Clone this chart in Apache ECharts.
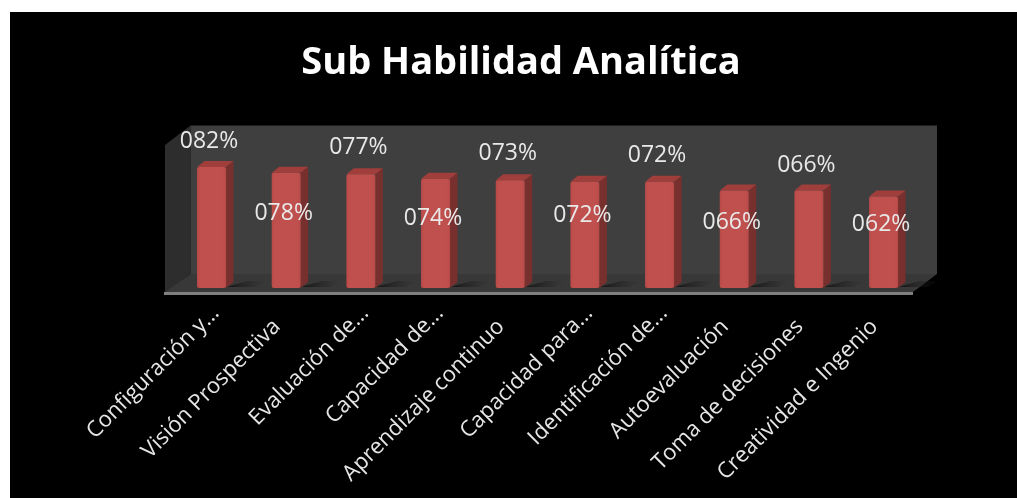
<!DOCTYPE html>
<html>
<head>
<meta charset="utf-8">
<style>
html,body{margin:0;padding:0;background:#fff;overflow:hidden}
#sheet{position:absolute;left:10px;top:12px;right:0;bottom:0;background:#000}
#chart{position:absolute;left:0;top:0;width:1017px;height:498px}
</style>
<script src="https://cdn.jsdelivr.net/npm/echarts@6/dist/echarts.min.js"></script>
</head>
<body>
<div id="sheet"></div>
<div id="chart"></div>
<script>
const categories = ['Configuración y...','Visión Prospectiva','Evaluación de...','Capacidad de...','Aprendizaje continuo','Capacidad para...','Identificación de...','Autoevaluación','Toma de decisiones','Creatividad e Ingenio'];
const values = [82,78,77,74,73,72,72,66,66,62];
const valueLabels = ['082%','078%','077%','074%','073%','072%','072%','066%','066%','062%'];

// layout only: label centre relative to the bar's top front edge
const labelShiftY = [-26,41,-27,40,-27,34,-26,32,-25,28];
const labelShiftX = -2.5;
const DEPTH_X = 7.5, DEPTH_Y = 6, BAR_W = 29, BAR_SHIFT = 0;
const FONT = '"Open Sans", sans-serif';
const catStyle = {color:'#e6e6e6', fontFamily:FONT, fontSize:22};

function poly(points, fill, z) {
  return {type:'polygon', shape:{points}, style:{fill}, z2:z||0, silent:true};
}
function renderBar(params, api) {
  const i = params.dataIndex;
  const top = api.coord([i, api.value(1)]);
  const base = api.coord([i, 0]);
  const x0 = top[0] - BAR_W/2 + BAR_SHIFT, x1 = x0 + BAR_W;
  const yT = top[1], yB = base[1];
  const dx = DEPTH_X, dy = DEPTH_Y;
  return {type:'group', children:[
    {type:'polygon', shape:{points:[[x1,yB-1],[x1+dx+14,yB-7],[x1+dx+34,yB-7],[x1+dx+22,yB-1]]},
      style:{fill:{type:'linear',x:0,y:0,x2:1,y:0,colorStops:[{offset:0,color:'rgba(18,18,18,0.95)'},{offset:1,color:'rgba(40,40,40,0)'}]}}, silent:true},
    poly([[x1,yT],[x1+dx,yT-dy],[x1+dx,yB-dy],[x1,yB]], '#77302e'),
    poly([[x0,yT],[x0+dx,yT-dy],[x1+dx,yT-dy],[x1,yT]], '#a03e3b'),
    {type:'rect', shape:{x:x0,y:yT,width:BAR_W,height:yB-yT,r:2},
      style:{fill:{type:'linear',x:0,y:0,x2:1,y:0,colorStops:[{offset:0,color:'#b84a47'},{offset:0.12,color:'#c0504d'},{offset:0.88,color:'#c0504d'},{offset:1,color:'#b84a47'}]}}, silent:true},
    {type:'text', silent:true, z2:10, style:{
      x: top[0] + labelShiftX, y: yT + labelShiftY[i],
      text: valueLabels[i], fill:'#e9e9e9', font:'23px '+FONT, align:'center', verticalAlign:'middle'}}
  ]};
}

const chart = echarts.init(document.getElementById('chart'), null, {renderer:'canvas'});
chart.setOption({
  animation:false,
  backgroundColor:'transparent',
  title:{text:'Sub Habilidad Analítica', left:516, textAlign:'center', top:39,
    textStyle:{color:'#fff', fontFamily:FONT, fontWeight:'bold', fontSize:38}},
  graphic:[
    {type:'polygon', z:-1, silent:true, shape:{points:[[165,145],[190.5,125.5],[190.5,274],[165,293]]}, style:{fill:'#2d2d2d'}},
    {type:'rect', z:-1, silent:true, shape:{x:190.5,y:125.5,width:746.5,height:148.5}, style:{fill:'#3f3f3f'}},
    {type:'polygon', z:-1, silent:true, shape:{points:[[190.5,274],[937,274],[913,292],[165,292]]}, style:{fill:'#383838'}},
    {type:'rect', z:-1, silent:true, shape:{x:164,y:292,width:749,height:3}, style:{fill:'#7f7f7f'}}
  ],
  grid:{left:174.2, top:140.4, width:746.7, height:147.6, containLabel:false},
  xAxis:{type:'category', data:categories,
    axisLine:{show:false}, axisTick:{show:false}, splitLine:{show:false},
    axisLabel:{interval:0, rotate:45, margin:26, hideOverlap:false, ...catStyle,
      formatter:v=>v.endsWith('...') ? '{cut|'+v+'}' : '{full|'+v+'}',
      rich:{cut:{...catStyle,padding:[0,-6,0,0]}, full:{...catStyle,padding:[0,13,0,0]}}}},
  yAxis:{type:'value', min:0, max:100, show:false},
  series:[{type:'custom', coordinateSystem:'cartesian2d', renderItem:renderBar, clip:false,
    encode:{x:0,y:1}, data:values.map((v,i)=>[i,v])}]
});
</script>
</body>
</html>
